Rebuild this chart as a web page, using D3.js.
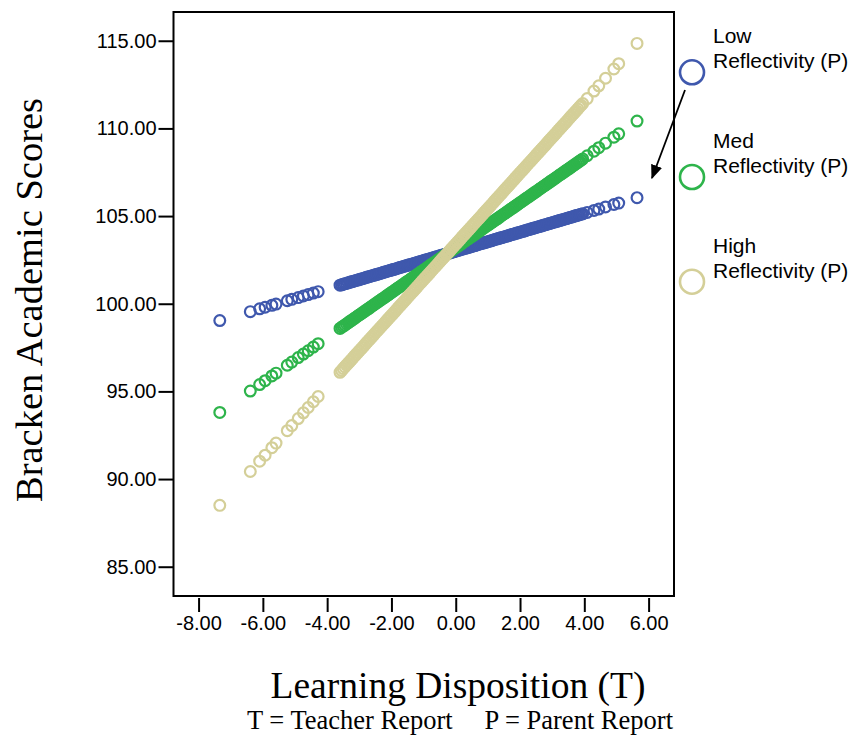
<!DOCTYPE html>
<html>
<head>
<meta charset="utf-8">
<script src="https://cdn.jsdelivr.net/npm/d3@7"></script>
<style>
  body { margin: 0; background: #fff; }
  svg { display: block; }
</style>
</head>
<body>
<div id="chart"></div>
<script>
// learning disposition (T) scores, one per case
var xValues = [-7.34, -6.39, -6.10, -5.93, -5.72, -5.59, -5.24, -5.10, -4.90, -4.74, -4.59, -4.43, -4.28,
  -3.60, -3.55, -3.50, -3.45, -3.40, -3.35, -3.30, -3.25, -3.20, -3.15,
  -3.10, -3.05, -3.00, -2.95, -2.90, -2.85, -2.80, -2.75, -2.70, -2.65,
  -2.60, -2.55, -2.50, -2.45, -2.40, -2.35, -2.30, -2.25, -2.20, -2.15,
  -2.10, -2.05, -2.00, -1.95, -1.90, -1.85, -1.80, -1.75, -1.70, -1.65,
  -1.60, -1.55, -1.50, -1.45, -1.40, -1.35, -1.30, -1.25, -1.20, -1.15,
  -1.10, -1.05, -1.00, -0.95, -0.90, -0.85, -0.80, -0.75, -0.70, -0.65,
  -0.60, -0.55, -0.50, -0.45, -0.40, -0.35, -0.30, -0.25, -0.20, -0.15,
  -0.10, -0.05, 0.00, 0.05, 0.10, 0.15, 0.20, 0.25, 0.30, 0.35,
  0.40, 0.45, 0.50, 0.55, 0.60, 0.65, 0.70, 0.75, 0.80, 0.85,
  0.90, 0.95, 1.00, 1.05, 1.10, 1.15, 1.20, 1.25, 1.30, 1.35,
  1.40, 1.45, 1.50, 1.55, 1.60, 1.65, 1.70, 1.75, 1.80, 1.85,
  1.90, 1.95, 2.00, 2.05, 2.10, 2.15, 2.20, 2.25, 2.30, 2.35,
  2.40, 2.45, 2.50, 2.55, 2.60, 2.65, 2.70, 2.75, 2.80, 2.85,
  2.90, 2.95, 3.00, 3.05, 3.10, 3.15, 3.20, 3.25, 3.30, 3.35,
  3.40, 3.45, 3.50, 3.55, 3.60, 3.65, 3.70, 3.75, 3.80, 3.85,
  3.90, 3.95,
  4.09, 4.30, 4.45, 4.66, 4.92, 5.07, 5.64];

// predicted Bracken scores per reflectivity group
var lowValues = [99.04, 99.55, 99.71, 99.80, 99.91, 99.98, 100.17, 100.25, 100.35, 100.44, 100.52, 100.61, 100.69,
  101.06, 101.08, 101.11, 101.14, 101.16, 101.19, 101.22, 101.25, 101.27, 101.30,
  101.33, 101.35, 101.38, 101.41, 101.43, 101.46, 101.49, 101.52, 101.54, 101.57,
  101.60, 101.62, 101.65, 101.68, 101.70, 101.73, 101.76, 101.79, 101.81, 101.84,
  101.87, 101.89, 101.92, 101.95, 101.97, 102.00, 102.03, 102.06, 102.08, 102.11,
  102.14, 102.16, 102.19, 102.22, 102.24, 102.27, 102.30, 102.33, 102.35, 102.38,
  102.41, 102.43, 102.46, 102.49, 102.51, 102.54, 102.57, 102.60, 102.62, 102.65,
  102.68, 102.70, 102.73, 102.76, 102.78, 102.81, 102.84, 102.87, 102.89, 102.92,
  102.95, 102.97, 103.00, 103.03, 103.05, 103.08, 103.11, 103.14, 103.16, 103.19,
  103.22, 103.24, 103.27, 103.30, 103.32, 103.35, 103.38, 103.41, 103.43, 103.46,
  103.49, 103.51, 103.54, 103.57, 103.59, 103.62, 103.65, 103.68, 103.70, 103.73,
  103.76, 103.78, 103.81, 103.84, 103.86, 103.89, 103.92, 103.95, 103.97, 104.00,
  104.03, 104.05, 104.08, 104.11, 104.13, 104.16, 104.19, 104.22, 104.24, 104.27,
  104.30, 104.32, 104.35, 104.38, 104.40, 104.43, 104.46, 104.49, 104.51, 104.54,
  104.57, 104.59, 104.62, 104.65, 104.67, 104.70, 104.73, 104.76, 104.78, 104.81,
  104.84, 104.86, 104.89, 104.92, 104.94, 104.97, 105.00, 105.03, 105.05, 105.08,
  105.11, 105.13,
  105.21, 105.32, 105.40, 105.52, 105.66, 105.74, 106.05];

var medValues = [93.80, 95.02, 95.39, 95.61, 95.88, 96.04, 96.49, 96.67, 96.93, 97.13, 97.32, 97.53, 97.72,
  98.59, 98.66, 98.72, 98.78, 98.85, 98.91, 98.98, 99.04, 99.10, 99.17,
  99.23, 99.30, 99.36, 99.42, 99.49, 99.55, 99.62, 99.68, 99.74, 99.81,
  99.87, 99.94, 100.00, 100.06, 100.13, 100.19, 100.26, 100.32, 100.38, 100.45,
  100.51, 100.58, 100.64, 100.70, 100.77, 100.83, 100.90, 100.96, 101.02, 101.09,
  101.15, 101.22, 101.28, 101.34, 101.41, 101.47, 101.54, 101.60, 101.66, 101.73,
  101.79, 101.86, 101.92, 101.98, 102.05, 102.11, 102.18, 102.24, 102.30, 102.37,
  102.43, 102.50, 102.56, 102.62, 102.69, 102.75, 102.82, 102.88, 102.94, 103.01,
  103.07, 103.14, 103.20, 103.26, 103.33, 103.39, 103.46, 103.52, 103.58, 103.65,
  103.71, 103.78, 103.84, 103.90, 103.97, 104.03, 104.10, 104.16, 104.22, 104.29,
  104.35, 104.42, 104.48, 104.54, 104.61, 104.67, 104.74, 104.80, 104.86, 104.93,
  104.99, 105.06, 105.12, 105.18, 105.25, 105.31, 105.38, 105.44, 105.50, 105.57,
  105.63, 105.70, 105.76, 105.82, 105.89, 105.95, 106.02, 106.08, 106.14, 106.21,
  106.27, 106.34, 106.40, 106.46, 106.53, 106.59, 106.66, 106.72, 106.78, 106.85,
  106.91, 106.98, 107.04, 107.10, 107.17, 107.23, 107.30, 107.36, 107.42, 107.49,
  107.55, 107.62, 107.68, 107.74, 107.81, 107.87, 107.94, 108.00, 108.06, 108.13,
  108.19, 108.26,
  108.44, 108.70, 108.90, 109.16, 109.50, 109.69, 110.42];

var highValues = [88.50, 90.43, 91.02, 91.36, 91.79, 92.05, 92.76, 93.05, 93.45, 93.78, 94.08, 94.41, 94.71,
  96.09, 96.19, 96.30, 96.40, 96.50, 96.60, 96.70, 96.80, 96.90, 97.01,
  97.11, 97.21, 97.31, 97.41, 97.51, 97.61, 97.72, 97.82, 97.92, 98.02,
  98.12, 98.22, 98.33, 98.43, 98.53, 98.63, 98.73, 98.83, 98.93, 99.04,
  99.14, 99.24, 99.34, 99.44, 99.54, 99.64, 99.75, 99.85, 99.95, 100.05,
  100.15, 100.25, 100.36, 100.46, 100.56, 100.66, 100.76, 100.86, 100.96, 101.07,
  101.17, 101.27, 101.37, 101.47, 101.57, 101.67, 101.78, 101.88, 101.98, 102.08,
  102.18, 102.28, 102.39, 102.49, 102.59, 102.69, 102.79, 102.89, 102.99, 103.10,
  103.20, 103.30, 103.40, 103.50, 103.60, 103.70, 103.81, 103.91, 104.01, 104.11,
  104.21, 104.31, 104.42, 104.52, 104.62, 104.72, 104.82, 104.92, 105.02, 105.13,
  105.23, 105.33, 105.43, 105.53, 105.63, 105.73, 105.84, 105.94, 106.04, 106.14,
  106.24, 106.34, 106.45, 106.55, 106.65, 106.75, 106.85, 106.95, 107.05, 107.16,
  107.26, 107.36, 107.46, 107.56, 107.66, 107.76, 107.87, 107.97, 108.07, 108.17,
  108.27, 108.37, 108.48, 108.58, 108.68, 108.78, 108.88, 108.98, 109.08, 109.19,
  109.29, 109.39, 109.49, 109.59, 109.69, 109.79, 109.90, 110.00, 110.10, 110.20,
  110.30, 110.40, 110.51, 110.61, 110.71, 110.81, 110.91, 111.01, 111.11, 111.22,
  111.32, 111.42,
  111.70, 112.13, 112.43, 112.86, 113.39, 113.69, 114.85];

var seriesNames = [["Low", "Reflectivity (P)"], ["Med", "Reflectivity (P)"], ["High", "Reflectivity (P)"]];
var seriesColors = ["#3f58ad", "#2eb44b", "#d4cf98"];
var xTicks = [-8, -6, -4, -2, 0, 2, 4, 6];
var yTicks = [85, 90, 95, 100, 105, 110, 115];

var width = 855, height = 738;
var box = { left: 173.5, right: 674, top: 12, bottom: 596 };

// SPSS style labels: plain hyphen for negatives
var fmt = d3.formatLocale({ decimal: ".", thousands: ",", grouping: [3], currency: ["", ""], minus: "-" }).format(".2f");

var x = d3.scaleLinear().domain([-8.78, 6.79]).range([box.left, box.right]);
var y = d3.scaleLinear().domain([83.33, 116.64]).range([box.bottom, box.top]);

var svg = d3.select("#chart").append("svg")
  .attr("width", width)
  .attr("height", height);

// frame
svg.append("rect")
  .attr("x", box.left).attr("y", box.top)
  .attr("width", box.right - box.left).attr("height", box.bottom - box.top)
  .attr("fill", "none").attr("stroke", "#000").attr("stroke-width", 2);

// axes
var yAxis = svg.append("g")
  .attr("transform", "translate(" + box.left + ",0)")
  .call(d3.axisLeft(y).tickValues(yTicks).tickFormat(fmt).tickSize(15).tickPadding(2));
var xAxis = svg.append("g")
  .attr("transform", "translate(0," + (box.bottom + 2) + ")")
  .call(d3.axisBottom(x).tickValues(xTicks).tickFormat(fmt).tickSize(14).tickPadding(4));

[yAxis, xAxis].forEach(function (g) {
  g.select(".domain").remove();
  g.selectAll(".tick line").attr("stroke", "#000").attr("stroke-width", 2);
  g.selectAll(".tick text")
    .attr("fill", "#000")
    .style("font-family", "'Liberation Sans', Arial, sans-serif")
    .style("font-size", "20px");
});

// points
var allSeries = [lowValues, medValues, highValues];
allSeries.forEach(function (vals, si) {
  svg.append("g").selectAll("circle")
    .data(xValues.map(function (xv, i) { return [xv, vals[i]]; }))
    .enter().append("circle")
    .attr("cx", function (d) { return x(d[0]); })
    .attr("cy", function (d) { return y(d[1]); })
    .attr("r", 5.4)
    .attr("fill", "none")
    .attr("stroke", seriesColors[si])
    .attr("stroke-width", 2.2);
});

// legend
var legend = svg.append("g").selectAll("g")
  .data(seriesNames)
  .enter().append("g")
  .attr("transform", function (d, i) { return "translate(692," + (72.3 + i * 104.7) + ")"; });
legend.append("circle")
  .attr("r", 12)
  .attr("fill", "none")
  .attr("stroke", function (d, i) { return seriesColors[i]; })
  .attr("stroke-width", 2.6);
legend.append("text")
  .attr("x", 21)
  .attr("y", -29)
  .style("font-family", "'Liberation Sans', Arial, sans-serif")
  .style("font-size", "21px")
  .selectAll("tspan")
  .data(function (d) { return d; })
  .enter().append("tspan")
  .attr("x", 21)
  .attr("dy", function (d, i) { return i === 0 ? 0 : 25; })
  .text(function (d) { return d; });

// arrow
svg.append("defs").append("marker")
  .attr("id", "head")
  .attr("viewBox", "0 0 10 10")
  .attr("refX", 9).attr("refY", 5)
  .attr("markerWidth", 8).attr("markerHeight", 8)
  .attr("markerUnits", "strokeWidth")
  .attr("orient", "auto")
  .append("path").attr("d", "M0,1 L10,5 L0,9 Z").attr("fill", "#000");
svg.append("line")
  .attr("x1", 685).attr("y1", 90)
  .attr("x2", 652).attr("y2", 178)
  .attr("stroke", "#000").attr("stroke-width", 1.8)
  .attr("marker-end", "url(#head)");

// titles
svg.append("text")
  .attr("transform", "translate(42,300) rotate(-90)")
  .attr("text-anchor", "middle")
  .style("font-family", "'Liberation Serif', 'Times New Roman', serif")
  .style("font-size", "38.5px")
  .text("Bracken Academic Scores");
svg.append("text")
  .attr("x", 458).attr("y", 698)
  .attr("text-anchor", "middle")
  .style("font-family", "'Liberation Serif', 'Times New Roman', serif")
  .style("font-size", "37.5px")
  .text("Learning Disposition (T)");
svg.append("text")
  .attr("x", 247).attr("y", 729)
  .style("font-family", "'Liberation Serif', 'Times New Roman', serif")
  .style("font-size", "26.5px")
  .text("T = Teacher Report");
svg.append("text")
  .attr("x", 673).attr("y", 729)
  .attr("text-anchor", "end")
  .style("font-family", "'Liberation Serif', 'Times New Roman', serif")
  .style("font-size", "26.5px")
  .text("P = Parent Report");
</script>
</body>
</html>
